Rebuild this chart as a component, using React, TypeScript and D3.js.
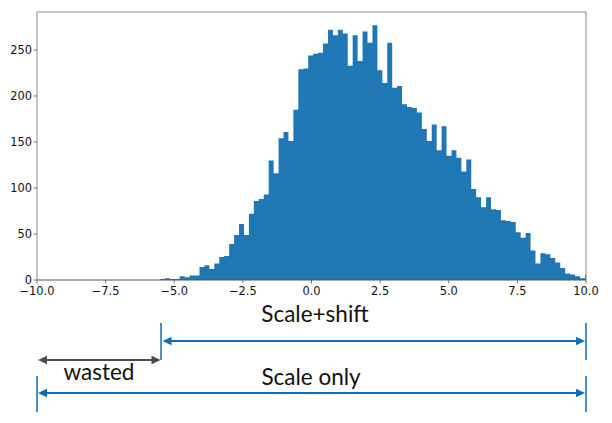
import React from "react";
import * as d3 from "d3";

// Histogram counts (bins start at -5.52, width 0.18)
const binStart = -5.52;
const binWidth = 0.18;
const counts = [
  1, 2, 1, 1, 4, 3, 5, 5, 14, 16,
  12, 18, 25, 26, 39, 49, 61, 49, 72, 86,
  88, 93, 130, 116, 154, 161, 151, 185, 229, 230,
  244, 246, 247, 257, 272, 266, 272, 268, 233, 266,
  238, 270, 258, 277, 228, 214, 258, 209, 211, 191,
  188, 187, 182, 164, 151, 169, 141, 167, 135, 141,
  133, 118, 131, 99, 90, 79, 90, 77, 76, 65,
  64, 63, 52, 46, 51, 32, 18, 29, 28, 24,
  19, 13, 7, 6, 4, 2, 6,
];
const xTicks = [-10, -7.5, -5, -2.5, 0, 2.5, 5, 7.5, 10];
const yTicks = [0, 50, 100, 150, 200, 250];

// Range annotations (data units on x)
const spanLabels = ["Scale+shift", "wasted", "Scale only"];
const spanFrom = [-5.5, -10, -10];
const spanTo = [10, -5.5, 10];

const W = 612;
const H = 423;
const left = 37;
const right = 586;
const top = 12;
const bottom = 280;

function Arrow({ x1, x2, y, color, sw }: { x1: number; x2: number; y: number; color: string; sw: number }) {
  const hl = 9;
  const hw = 4.2;
  return (
    <g>
      <line x1={x1 + hl - 1} x2={x2 - hl + 1} y1={y} y2={y} stroke={color} strokeWidth={sw} />
      <path d={`M${x1},${y} L${x1 + hl},${y - hw} L${x1 + hl},${y + hw} Z`} fill={color} />
      <path d={`M${x2},${y} L${x2 - hl},${y - hw} L${x2 - hl},${y + hw} Z`} fill={color} />
    </g>
  );
}

export default function App() {
  const x = d3.scaleLinear().domain([-10, 10]).range([left, right]);
  const y = d3.scaleLinear().domain([0, 291.3]).range([bottom, top]);
  const blue = "#1f77b4";
  const annBlue = "#0a6ebd";
  const gray = "#4a4a4a";
  const tickFont = "'DejaVu Sans', sans-serif";
  const annFont = "Lato, 'Open Sans', sans-serif";

  // build one step path for all bars (no seams between bars)
  const path = d3.path();
  path.moveTo(x(binStart), y(0));
  counts.forEach((c, i) => {
    const x0 = x(binStart + i * binWidth);
    const x1 = x(binStart + (i + 1) * binWidth);
    path.lineTo(x0, y(c));
    path.lineTo(x1, y(c));
  });
  path.lineTo(x(binStart + counts.length * binWidth), y(0));
  path.closePath();

  return (
    <svg width={W} height={H} style={{ position: "absolute", left: 0, top: 0, background: "#fff" }}>
      <defs>
        <clipPath id="plot">
          <rect x={left} y={top} width={right - left} height={bottom - top} />
        </clipPath>
      </defs>
      <rect width={W} height={H} fill="#fff" />
      <g clipPath="url(#plot)">
        <path d={path.toString()} fill={blue} />
      </g>
      {/* spines */}
      <g stroke="#8a8a8a" strokeWidth={1} fill="none">
        <line x1={left} x2={right} y1={top} y2={top} />
        <line x1={left} x2={left} y1={top} y2={bottom} />
        <line x1={right} x2={right} y1={top} y2={bottom} />
        <line x1={left} x2={right} y1={bottom} y2={bottom} stroke="#555" />
      </g>
      {/* y ticks */}
      {yTicks.map((t) => (
        <g key={"y" + t}>
          <line x1={left - 3.5} x2={left} y1={y(t)} y2={y(t)} stroke="#555" strokeWidth={0.8} />
          <text x={left - 5} y={y(t)} dy="0.36em" textAnchor="end" fontFamily={tickFont} fontSize={11.4} fill="#111">
            {String(t)}
          </text>
        </g>
      ))}
      {/* x ticks */}
      {xTicks.map((t) => (
        <g key={"x" + t}>
          <line x1={x(t)} x2={x(t)} y1={bottom} y2={bottom + 3.5} stroke="#555" strokeWidth={0.8} />
          <text x={x(t)} y={bottom + 15} textAnchor="middle" fontFamily={tickFont} fontSize={11.4} fill="#111">
            {t.toFixed(1).replace("-", "\u2212")}
          </text>
        </g>
      ))}
      {/* annotations */}
      <g>
        <text x={315} y={322} textAnchor="middle" fontFamily={annFont} fontSize={22.5} fill="#111">
          {spanLabels[0]}
        </text>
        <line x1={x(spanFrom[0]) + 0.5} x2={x(spanFrom[0]) + 0.5} y1={323} y2={360} stroke={annBlue} strokeWidth={1.5} />
        <line x1={x(spanTo[0])} x2={x(spanTo[0])} y1={323} y2={360} stroke={annBlue} strokeWidth={1.5} />
        <Arrow x1={x(spanFrom[0]) + 2} x2={x(spanTo[0]) - 1} y={341} color={annBlue} sw={2} />

        <Arrow x1={x(spanFrom[1]) + 1} x2={x(spanTo[1])} y={360} color={gray} sw={2} />
        <text x={99} y={380} textAnchor="middle" fontFamily={annFont} fontSize={22.5} fill="#111">
          {spanLabels[1]}
        </text>

        <text x={311} y={385} textAnchor="middle" fontFamily={annFont} fontSize={22.5} fill="#111">
          {spanLabels[2]}
        </text>
        <line x1={x(spanFrom[2])} x2={x(spanFrom[2])} y1={376} y2={412} stroke={annBlue} strokeWidth={1.5} />
        <line x1={x(spanTo[2])} x2={x(spanTo[2])} y1={376} y2={412} stroke={annBlue} strokeWidth={1.5} />
        <Arrow x1={x(spanFrom[2]) + 1} x2={x(spanTo[2]) - 1} y={393} color={annBlue} sw={2} />
      </g>
    </svg>
  );
}
